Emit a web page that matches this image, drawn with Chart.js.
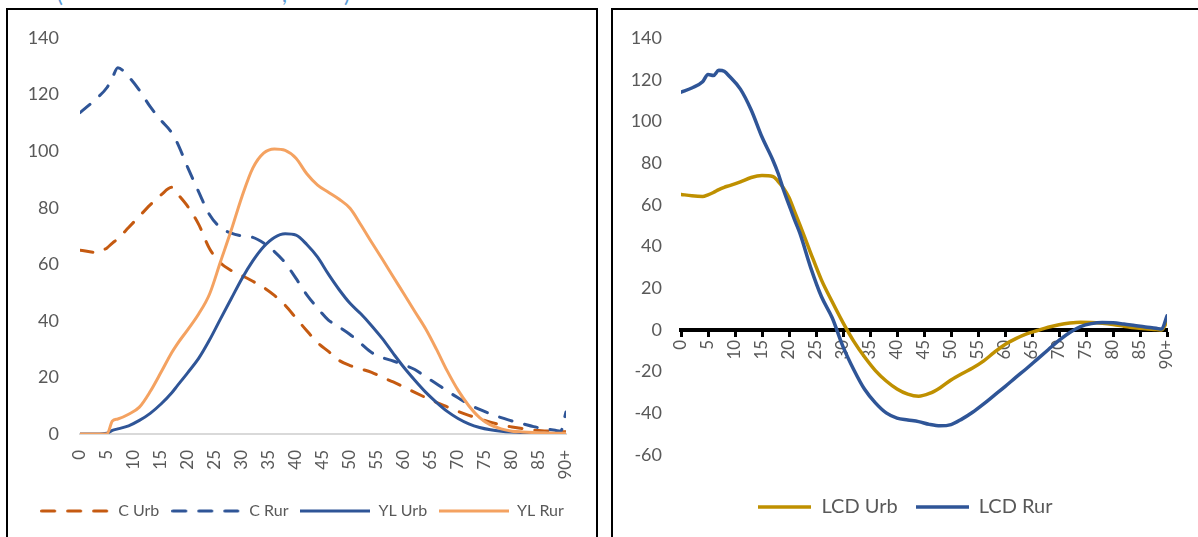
<!DOCTYPE html>
<html lang="en">
<head>
<meta charset="UTF-8">
<title>C, YL and LCD by age, urban and rural</title>
<script src="https://cdn.jsdelivr.net/npm/chart.js"></script>
<style>
  body {
    margin: 0;
    width: 1198px;
    height: 537px;
    overflow: hidden;
    background: #fff;
    position: relative;
    font-family: Lato, sans-serif;
  }
  .box {
    position: absolute;
    top: 8px;
    height: 600px;
    border: 2px solid #000;
  }
  #leftBox { left: 6px; width: 588px; }
  #rightBox { left: 611px; width: 620px; }
  .box canvas { position: absolute; left: 0; top: 0; }
  .cut {
    position: absolute;
    top: -17px;
    font-size: 22px;
    line-height: 22px;
    color: #5b9bd5;
  }
</style>
</head>
<body>
  <span class="cut" style="left:57px">(</span>
  <span class="cut" style="left:282px">,</span>
  <span class="cut" style="left:344px">)</span>

  <div class="box" id="leftBox"><canvas id="leftChart" width="588" height="527"></canvas></div>
  <div class="box" id="rightBox"><canvas id="rightChart" width="585" height="527"></canvas></div>

  <script>
    // tick labels, one every 5 years
    const ageTickLabels = ['0', '5', '10', '15', '20', '25', '30', '35', '40', '45',
      '50', '55', '60', '65', '70', '75', '80', '85', '90+'];

    const leftAges = [0, 3, 5, 6, 7, 9, 11, 13, 15, 17, 18, 20, 22, 24, 26, 28, 30, 32, 34, 36,
      38, 40, 42, 44, 46, 48, 50, 52, 54, 56, 58, 60, 62, 64, 66, 68, 70, 72, 74, 76,
      78, 80, 82, 84, 86, 88, 89, 90];

    const cUrb = [65, 64.2, 65.8, 67.5, 69, 73, 77, 81, 84.5, 87.2, 85, 80.3, 74, 65.5, 60.5, 57.8, 56, 54, 51.8, 49,
      45.5, 41, 36.5, 32.3, 29.2, 26, 24.2, 23, 21.8, 20, 18.4, 16.6, 14.7, 12.9, 11.2, 9.6, 8, 6.6, 5.3, 4.2,
      3.2, 2.5, 1.9, 1.4, 1.1, 0.9, 0.8, 0.8];
    const cRur = [113.6, 118.5, 122.5, 126, 129.5, 126.3, 121.5, 115.7, 110.9, 106.5, 103, 94, 85.5, 77.5, 73, 71, 70, 69.5, 67.5, 64.5,
      60.5, 55, 49.2, 44.5, 40.3, 37.8, 35.2, 32, 28.8, 27, 25.8, 24.4, 22.8, 20.2, 17.8, 15.2, 12.8, 10.5, 8.7, 7.1,
      5.8, 4.6, 3.6, 2.6, 1.9, 1.3, 1.0, 7.8];
    const ylUrb = [0, 0, 0.3, 1.3, 1.8, 2.9, 4.8, 7.3, 10.6, 14.6, 17, 21.8, 26.8, 33.3, 40.6, 47.8, 55, 61.2, 66.2, 69.5,
      70.8, 70.3, 67, 62.5, 56.5, 51, 46.2, 42.5, 38.3, 33.7, 28.5, 23.5, 19, 14.8, 11.2, 8, 5.5, 3.6, 2.3, 1.5,
      1, 0.7, 0.5, 0.4, 0.3, 0.2, 0.2, 0.2];
    const ylRur = [0, 0, 0, 4.6, 5.3, 7, 9.5, 15, 21.8, 28.8, 31.8, 37, 42.5, 49.5, 60.8, 72, 84, 94, 99.3, 100.8,
      100.3, 97.5, 92, 88, 85.5, 83, 79.8, 74, 67.8, 61.8, 55.6, 49.5, 43.3, 37.2, 30, 22.3, 15.5, 10, 5.8, 3.2,
      1.8, 1, 0.7, 0.5, 0.4, 0.3, 0.3, 0.3];

    // right chart
    const rightAges = [0, 2, 4, 5, 6, 7, 8, 9, 11, 13, 15, 17, 18, 19, 20, 21, 22, 24, 26, 28,
      30, 32, 34, 36, 38, 40, 42, 44, 46, 48, 50, 52, 54, 56, 58, 60, 62, 64, 66, 68,
      70, 72, 74, 76, 78, 80, 82, 84, 86, 88, 89, 90];

    const lcdUrb = [65, 64.3, 64, 64.8, 65.9, 67.3, 68.4, 69.2, 71, 73.1, 74, 73.6, 71.2, 68, 63.5, 57, 50.5, 37, 24, 13.5,
      3.5, -5.5, -13, -19.5, -24.5, -28.3, -30.8, -31.8, -30.5, -27.7, -24, -21, -18.3, -15, -10.8, -7, -4.2, -1.9, -0.3, 1.3,
      2.5, 3.3, 3.7, 3.6, 3.2, 2.6, 1.8, 1, 0.5, 0.2, 0, 4];
    const lcdRur = [114, 116, 119, 122.5, 122, 124.5, 124, 121.5, 115.5, 105.5, 92.5, 81.5, 75, 67, 60, 53, 46.5, 30, 16, 5.8,
      -8, -19.1, -28.5, -35, -39.8, -42.3, -43.2, -44, -45.3, -46, -45.4, -42.8, -39.5, -35.6, -31.4, -27.2, -22.8, -18.5, -14, -9.5,
      -5, -1.2, 1.6, 3, 3.5, 3.4, 2.8, 2.1, 1.4, 0.8, 0.4, 6.7];

    const textColor = '#595959';
    const fontFamily = 'Lato, sans-serif';

    function points(ages, values) {
      return ages.map((a, i) => ({ x: a, y: values[i] }));
    }

    // small canvas used as the legend sample, so dashes show up there too
    function swatch(color, width, dash, length) {
      const c = document.createElement('canvas');
      c.width = length;
      c.height = 8;
      const g = c.getContext('2d');
      g.strokeStyle = color;
      g.lineWidth = width;
      g.lineCap = dash.length ? 'round' : 'butt';
      g.setLineDash(dash);
      g.beginPath();
      g.moveTo(dash.length ? width / 2 : 0, 4);
      g.lineTo(length, 4);
      g.stroke();
      return c;
    }

    function line(label, ages, values, color, width, dash, order, swatchLen) {
      return {
        label: label,
        data: points(ages, values),
        borderColor: color,
        backgroundColor: color,
        borderWidth: width,
        borderDash: dash,
        borderCapStyle: 'round',
        pointRadius: 0,
        pointStyle: swatch(color, width, dash, swatchLen),
        cubicInterpolationMode: 'monotone',
        order: order
      };
    }

    function ageAxis() {
      return {
        type: 'linear',
        min: 0,
        max: 90,
        ticks: {
          stepSize: 5,
          autoSkip: false,
          maxRotation: 90,
          minRotation: 90,
          color: textColor,
          font: { family: fontFamily, size: 17 },
          callback: (v) => ageTickLabels[v / 5]
        }
      };
    }

    // empty axis on the right, only to keep room there without narrowing the legend
    function spacer(width) {
      return {
        position: 'right',
        grid: { display: false },
        border: { display: false },
        ticks: { display: false },
        afterFit: (scale) => { scale.width = width; }
      };
    }

    const legendLabels = (width, size, pad) => ({
      usePointStyle: true,
      pointStyleWidth: width,
      padding: pad,
      color: textColor,
      font: { family: fontFamily, size: size },
      sort: (a, b) => a.datasetIndex - b.datasetIndex
    });

    // left chart
    const leftX = ageAxis();
    leftX.grid = { display: false };
    leftX.border = { color: '#d9d9d9', width: 2 };
    leftX.ticks.padding = 8;
    leftX.afterFit = (scale) => { scale.height = 57; };

    new Chart(document.getElementById('leftChart'), {
      type: 'line',
      data: {
        datasets: [
          line('C Urb', leftAges, cUrb, '#c55a11', 3, [13, 13], 3, 70),
          line('C Rur', leftAges, cRur, '#2f5597', 3, [13, 13], 2, 70),
          line('YL Urb', leftAges, ylUrb, '#2f5597', 3, [], 1, 70),
          line('YL Rur', leftAges, ylRur, '#f4a261', 3, [], 0, 70)
        ]
      },
      options: {
        responsive: false,
        animation: false,
        layout: { padding: { top: 28, right: 0, bottom: 8, left: 0 } },
        scales: {
          x: leftX,
          y: {
            min: 0,
            max: 140,
            grid: { display: false },
            border: { display: false },
            ticks: { stepSize: 20, padding: 13, color: textColor, font: { family: fontFamily, size: 18 } },
            afterFit: (scale) => { scale.width = 72; }
          },
          pad: spacer(30)
        },
        plugins: {
          legend: { position: 'bottom', labels: legendLabels(70, 16, 12) },
          tooltip: { enabled: false }
        }
      }
    });

    // right chart
    const rightX = ageAxis();
    rightX.position = { y: 0 };
    rightX.grid = { drawOnChartArea: false, drawTicks: true, tickLength: 5, tickWidth: 3, tickColor: '#000' };
    rightX.border = { color: '#000', width: 4 };
    rightX.ticks.padding = 5;

    new Chart(document.getElementById('rightChart'), {
      type: 'line',
      data: {
        datasets: [
          line('LCD Urb', rightAges, lcdUrb, '#bf9000', 3.5, [], 1, 53),
          line('LCD Rur', rightAges, lcdRur, '#2f5597', 3.5, [], 0, 53)
        ]
      },
      options: {
        responsive: false,
        animation: false,
        layout: { padding: { top: 28, right: 0, bottom: 10, left: 0 } },
        scales: {
          x: rightX,
          y: {
            min: -60,
            max: 140,
            grid: { display: false },
            border: { display: false },
            ticks: { stepSize: 20, padding: 11, color: textColor, font: { family: fontFamily, size: 18 } },
            afterFit: (scale) => { scale.width = 68; }
          },
          pad: spacer(31)
        },
        plugins: {
          legend: {
            position: 'bottom',
            title: { display: true, text: '', font: { size: 10 }, padding: { top: 12, bottom: 0 } },
            labels: legendLabels(53, 20, 18)
          },
          tooltip: { enabled: false }
        }
      }
    });
  </script>
</body>
</html>
